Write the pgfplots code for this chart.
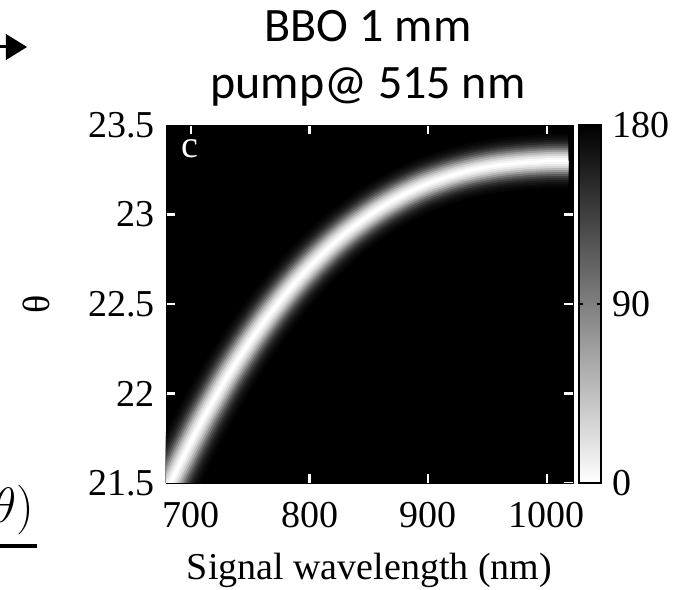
\documentclass[border=0pt]{standalone}
\usepackage{fontspec}
\setmainfont{Liberation Serif}
\newfontfamily\calibri{Carlito}
\usepackage{pgfplots}
\pgfplotsset{compat=1.18}
\usepackage{pgfplotstable}

% centre line of the phase-matching band (signal wavelength, theta)
\pgfplotstableread{
lambda theta
670 21.313
680 21.460
690 21.597
700 21.729
710 21.856
720 21.973
730 22.087
740 22.192
750 22.292
760 22.386
770 22.474
780 22.557
790 22.635
800 22.707
810 22.774
820 22.837
830 22.894
840 22.946
850 22.994
860 23.038
870 23.077
880 23.113
890 23.145
900 23.173
920 23.219
940 23.253
960 23.276
980 23.290
1000 23.298
1018 23.300
}\bandcenter

\newcommand{\tfont}{\fontsize{19}{22}\selectfont}

\begin{document}
\begin{tikzpicture}
\useasboundingbox (-83pt,-53.5pt) rectangle (255.5pt,241.5pt);
\begin{axis}[
  scale only axis, width=203.5pt, height=179pt,
  at={(0,0)}, anchor=south west,
  xmin=679, xmax=1022, ymin=21.5, ymax=23.5,
  xtick={700,800,900,1000},
  ytick={21.5,22,22.5,23,23.5},
  /pgf/number format/assume math mode=true,
  /pgf/number format/1000 sep={},
  ticklabel style={font=\tfont},
  xticklabel style={yshift=-6pt},
  yticklabel style={xshift=-2pt},
  tick align=inside,
  major tick length=4.5pt,
  tick style={white, line width=1.2pt},
  axis line style={black},
  axis background/.style={fill=black},
  xlabel={Signal wavelength (nm)},
  ylabel={θ},
  every axis x label/.style={at={(rel axis cs:0.5,0)}, anchor=center, yshift=-43.5pt, font=\tfont},
  every axis y label/.style={at={(rel axis cs:0,0.5)}, anchor=center, xshift=-65pt, rotate=90, font=\tfont},
  colormap={wb}{color(0cm)=(white); color(1cm)=(black)},
  point meta min=0, point meta max=180,
  colorbar,
  colorbar style={
    at={(parent axis.north east)}, anchor=north west, xshift=-5.5pt,
    width=11pt,
    ytick={0,90,180},
    /pgf/number format/assume math mode=true,
    yticklabel style={font=\tfont, xshift=2pt},
    tick align=inside,
    major tick length=2pt,
    tick style={black, line width=0.8pt},
    axis line style={black, line width=0.8pt},
    axis background/.style={},
  },
  every axis plot/.append style={no markers, smooth, line join=round, line cap=butt},
]
\addplot[line width=27pt, color=white!2!black] table {\bandcenter};
\addplot[line width=25pt, color=white!4!black] table {\bandcenter};
\addplot[line width=23pt, color=white!7!black] table {\bandcenter};
\addplot[line width=21pt, color=white!11!black] table {\bandcenter};
\addplot[line width=19pt, color=white!17!black] table {\bandcenter};
\addplot[line width=17pt, color=white!25!black] table {\bandcenter};
\addplot[line width=15pt, color=white!35!black] table {\bandcenter};
\addplot[line width=13pt, color=white!47!black] table {\bandcenter};
\addplot[line width=11pt, color=white!60!black] table {\bandcenter};
\addplot[line width=9pt, color=white!72!black] table {\bandcenter};
\addplot[line width=7pt, color=white!83!black] table {\bandcenter};
\addplot[line width=5pt, color=white!91!black] table {\bandcenter};
\addplot[line width=3pt, color=white!97!black] table {\bandcenter};
\addplot[line width=1.2pt, color=white] table {\bandcenter};
\node[white, font=\tfont] at (rel axis cs:0.06,0.935) {c};
\end{axis}
% title
\node[font=\calibri\fontsize{24}{28}\selectfont, anchor=base] at (101pt,220.5pt) {BBO 1 mm};
\node[font=\calibri\fontsize{24}{28}\selectfont, anchor=base] at (101pt,192pt) {pump@ 515 nm};
% fragments of the neighbouring slide content at the left edge
\fill (-83pt,217.25pt) rectangle (-80pt,218.75pt);
\fill (-80pt,224.5pt) -- (-69.5pt,218pt) -- (-80pt,211.5pt) -- cycle;
\node[anchor=east, font=\fontsize{24}{28}\selectfont, inner sep=0pt] at (-65.5pt,-13.5pt) {$\theta)$};
\fill (-83pt,-32.5pt) rectangle (-64.5pt,-30.5pt);
\end{tikzpicture}
\end{document}
